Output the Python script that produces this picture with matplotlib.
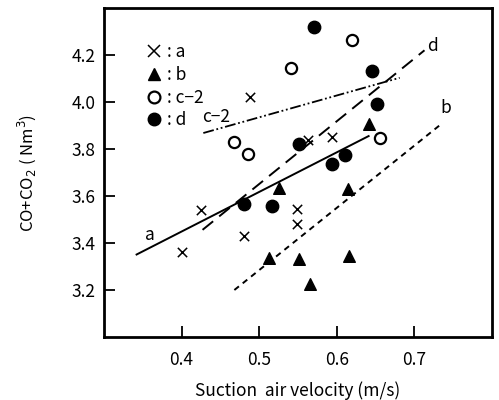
import matplotlib
matplotlib.use("Agg")
import matplotlib.pyplot as plt
from matplotlib.lines import Line2D

plt.rcParams['font.family'] = ['Noto Sans CJK JP', 'DejaVu Sans']

# data
a_x = [0.400, 0.425, 0.481, 0.488, 0.549, 0.549, 0.563, 0.594]
a_y = [3.36, 3.54, 3.43, 4.02, 3.545, 3.48, 3.84, 3.85]
b_x = [0.641, 0.525, 0.614, 0.513, 0.551, 0.566, 0.616]
b_y = [3.906, 3.635, 3.63, 3.335, 3.33, 3.225, 3.343]
c_x = [0.620, 0.541, 0.468, 0.485, 0.656]
c_y = [4.263, 4.145, 3.83, 3.78, 3.847]
d_x = [0.570, 0.645, 0.652, 0.551, 0.611, 0.594, 0.480, 0.516]
d_y = [4.318, 4.133, 3.99, 3.822, 3.776, 3.738, 3.566, 3.557]

# regression lines (endpoints)
line_a_x = [0.342, 0.641]; line_a_y = [3.351, 3.855]
line_b_x = [0.468, 0.736]; line_b_y = [3.20, 3.91]
line_c_x = [0.428, 0.681]; line_c_y = [3.868, 4.103]
line_d_x = [0.427, 0.713]; line_d_y = [3.456, 4.22]

xticks = [0.4, 0.5, 0.6, 0.7]
yticks = [3.2, 3.4, 3.6, 3.8, 4.0, 4.2]

fig = plt.figure(figsize=(4.99, 4.0), dpi=100)
ax = fig.add_axes([0.2084, 0.1575, 0.7776, 0.8225])

ax.plot(line_a_x, line_a_y, color='black', lw=1.4, ls='-')
ax.plot(line_b_x, line_b_y, color='black', lw=1.4, ls=(0, (3, 2.5)))
ax.plot(line_c_x, line_c_y, color='black', lw=1.3, ls=(0, (6, 1.5, 1, 1.5, 1, 1.5)))
ax.plot(line_d_x, line_d_y, color='black', lw=1.4, ls=(0, (7, 4)))

ax.scatter(a_x, a_y, marker='x', s=45, color='black', linewidths=1.1, zorder=3)
ax.scatter(b_x, b_y, marker='^', s=70, color='black', zorder=3)
ax.scatter(c_x, c_y, marker='o', s=65, facecolors='white', edgecolors='black', linewidths=1.6, zorder=3)
ax.scatter(d_x, d_y, marker='o', s=80, color='black', zorder=3)

ax.text(0.359, 3.435, 'a', fontsize=12.5, ha='center', va='center')
ax.text(0.741, 3.975, 'b', fontsize=12.5, ha='center', va='center')
ax.text(0.445, 3.935, 'c\u22122', fontsize=12.5, ha='center', va='center')
ax.text(0.723, 4.24, 'd', fontsize=12.5, ha='center', va='center')

handles = [
    Line2D([], [], ls='none', marker='x', color='black', ms=8, mew=1.1),
    Line2D([], [], ls='none', marker='^', color='black', ms=9),
    Line2D([], [], ls='none', marker='o', mfc='white', mec='black', ms=8.5, mew=1.6),
    Line2D([], [], ls='none', marker='o', color='black', ms=9),
]
labels = [': a', ': b', ': c\u22122', ': d']
ax.legend(handles, labels, loc='upper left', bbox_to_anchor=(0.092, 0.915),
          frameon=False, handlelength=0.8, handletextpad=0.35, labelspacing=0.28,
          fontsize=12.5, borderaxespad=0)

ax.set_xlim(0.3, 0.8)
ax.set_ylim(3.0, 4.4)
ax.set_xticks(xticks)
ax.set_xticklabels([f'{v:.1f}' for v in xticks])
ax.set_yticks(yticks)
ax.set_yticklabels([f'{v:.1f}' for v in yticks])
ax.tick_params(direction='in', length=8, width=1.3, labelsize=12.5, top=False, right=False)
ax.tick_params(axis='x', pad=10)
ax.tick_params(axis='y', pad=6)
for s in ax.spines.values():
    s.set_linewidth(2)

ax.set_xlabel('Suction  air velocity (m/s)', fontsize=12.5, labelpad=9)
ax.set_ylabel('CO+CO$_2$ ( Nm$^3$)', fontsize=12, labelpad=24)

fig.savefig('out.png', dpi=100)
